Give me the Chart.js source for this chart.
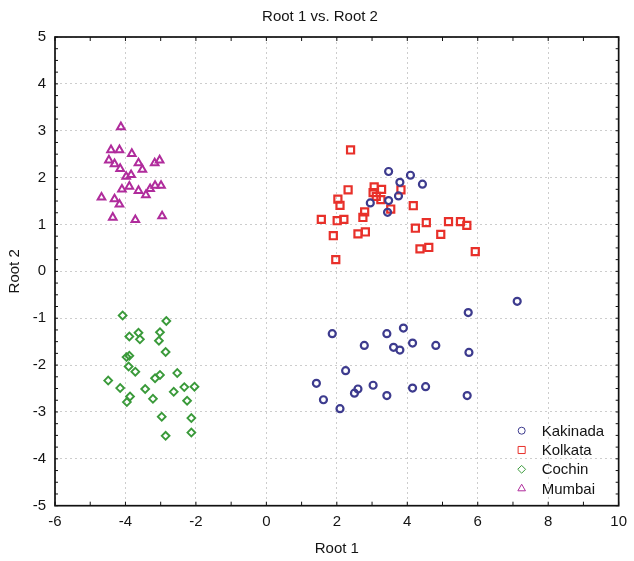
<!DOCTYPE html>
<html>
<head>
<meta charset="utf-8">
<script src="https://cdn.jsdelivr.net/npm/chart.js@4.4.1/dist/chart.umd.min.js"></script>
<style>
  html, body { margin: 0; padding: 0; background: #fff; }
</style>
</head>
<body>
<canvas id="chart" width="634" height="561"></canvas>
<script>
// data (Root 1 = x, Root 2 = y)
const seriesNames = ['Kakinada', 'Kolkata', 'Cochin', 'Mumbai'];

const kakinadaX = [3.47, 4.09, 3.79, 4.43, 3.75, 3.47, 2.95, 3.44,
  7.12, 5.73, 1.87, 3.42, 3.89, 2.78, 3.61, 3.79, 4.15, 4.81, 5.75,
  2.25, 1.42, 1.62, 2.09, 2.50, 2.60, 3.03, 3.42, 4.15, 4.52, 5.70];
const kakinadaY = [2.13, 2.05, 1.90, 1.86, 1.61, 1.51, 1.46, 1.26,
  -0.64, -0.88, -1.33, -1.33, -1.21, -1.58, -1.62, -1.68, -1.53, -1.58, -1.73,
  -2.12, -2.39, -2.74, -2.93, -2.60, -2.51, -2.43, -2.65, -2.49, -2.46, -2.65];

const kolkataX = [2.39, 1.56, 1.90, 1.97, 2.03, 2.09, 2.01, 2.20, 2.32, 2.60,
  2.81, 2.74, 2.79, 3.06, 3.03, 3.12, 3.27, 3.25, 3.53, 3.82,
  4.17, 4.23, 4.54, 4.36, 4.61, 4.95, 5.17, 5.51, 5.69, 5.93];
const kolkataY = [2.59, 1.11, 0.76, 0.25, 1.54, 1.41, 1.08, 1.11, 1.74, 0.80,
  0.84, 1.15, 1.27, 1.80, 1.68, 1.60, 1.75, 1.53, 1.33, 1.74,
  1.40, 0.92, 1.04, 0.48, 0.51, 0.79, 1.06, 1.06, 0.98, 0.42];

const cochinX = [-4.08, -2.84, -3.89, -3.63, -3.59, -3.02, -3.05, -2.86, -3.97, -3.89,
  -3.91, -3.72, -4.49, -3.16, -3.02, -2.53, -4.15, -3.87, -3.96, -3.44,
  -3.22, -2.63, -2.33, -2.04, -2.25, -2.97, -2.13, -2.86, -2.13];
const cochinY = [-0.94, -1.06, -1.39, -1.31, -1.45, -1.30, -1.48, -1.72, -1.83, -1.80,
  -2.03, -2.14, -2.33, -2.28, -2.21, -2.17, -2.49, -2.67, -2.79, -2.51,
  -2.72, -2.57, -2.47, -2.46, -2.76, -3.10, -3.13, -3.51, -3.44];

const mumbaiX = [-4.13, -4.41, -4.17, -3.82, -4.47, -4.31, -4.15, -3.63, -3.52, -3.17,
  -3.03, -3.98, -3.84, -4.10, -3.89, -3.63, -3.42, -3.30, -3.16, -2.99,
  -4.68, -4.31, -4.17, -4.36, -3.72, -2.96];
const mumbaiY = [3.08, 2.59, 2.59, 2.51, 2.37, 2.29, 2.19, 2.31, 2.17, 2.31,
  2.37, 2.02, 2.06, 1.75, 1.81, 1.72, 1.63, 1.76, 1.83, 1.83,
  1.58, 1.54, 1.43, 1.15, 1.10, 1.18];

const xTicks = [-6, -4, -2, 0, 2, 4, 6, 8, 10];
const yTicks = [-5, -4, -3, -2, -1, 0, 1, 2, 3, 4, 5];

const FONT = "'Liberation Sans', Arial, sans-serif";
const TEXT = '#141414';

function toPoints(xs, ys) {
  return xs.map((x, i) => ({ x: x, y: ys[i] }));
}

function series(label, xs, ys, color, style, radius, bw) {
  return {
    label: label,
    data: toPoints(xs, ys),
    pointStyle: style,
    pointRadius: radius,
    pointHoverRadius: radius,
    pointBorderWidth: bw,
    borderColor: color,
    backgroundColor: 'rgba(255,255,255,0)',
    showLine: false
  };
}

// frame + small inward ticks like the original software draws
const frameTicks = {
  id: 'frameTicks',
  afterDraw(chart) {
    const { ctx, chartArea: a, scales } = chart;
    ctx.save();
    ctx.strokeStyle = '#111';
    ctx.lineWidth = 1;
    ctx.beginPath();
    for (let v = -6; v <= 10; v++) {
      const px = scales.x.getPixelForValue(v);
      ctx.moveTo(px, a.bottom); ctx.lineTo(px, a.bottom - 4);
      ctx.moveTo(px, a.top); ctx.lineTo(px, a.top + 4);
    }
    for (let v = -5; v <= 5; v += 0.25) {
      const py = scales.y.getPixelForValue(v);
      ctx.moveTo(a.left, py); ctx.lineTo(a.left + 3, py);
      ctx.moveTo(a.right, py); ctx.lineTo(a.right - 3, py);
    }
    ctx.stroke();
    ctx.lineWidth = 1.7;
    ctx.strokeRect(a.left, a.top, a.right - a.left, a.bottom - a.top);
    ctx.restore();
  }
};

// legend in the lower right corner of the plot
const cornerLegend = {
  id: 'cornerLegend',
  afterDraw(chart) {
    const { ctx, chartArea: a } = chart;
    ctx.save();
    ctx.font = '15px ' + FONT;
    ctx.textBaseline = 'middle';
    chart.data.datasets.forEach((ds, i) => {
      const y = a.bottom - 75 + i * 19.3;
      const x = a.right - 97;
      ctx.strokeStyle = ds.borderColor;
      ctx.fillStyle = 'rgba(255,255,255,0)';
      Chart.helpers.drawPoint(ctx, {
        pointStyle: ds.pointStyle, rotation: 0,
        radius: ds.pointRadius, borderWidth: ds.pointBorderWidth
      }, x, y);
      ctx.fillStyle = TEXT;
      ctx.fillText(ds.label, a.right - 77, y + 1);
    });
    ctx.restore();
  }
};

new Chart(document.getElementById('chart'), {
  type: 'scatter',
  data: {
    datasets: [
      series(seriesNames[0], kakinadaX, kakinadaY, '#3d3b8e', 'circle', 3.5, 2.2),
      series(seriesNames[1], kolkataX, kolkataY, '#e8302a', 'rect', 5, 2.2),
      series(seriesNames[2], cochinX, cochinY, '#3a9a3a', 'rectRot', 3.9, 1.9),
      series(seriesNames[3], mumbaiX, mumbaiY, '#b02c9c', 'triangle', 4.4, 2)
    ]
  },
  plugins: [frameTicks, cornerLegend],
  options: {
    responsive: false,
    animation: false,
    devicePixelRatio: 1,
    layout: { padding: { left: 16, right: 10, top: 0, bottom: 0 } },
    plugins: {
      legend: { display: false },
      tooltip: { enabled: false },
      title: {
        display: true,
        text: 'Root 1 vs. Root 2',
        color: TEXT,
        font: { family: FONT, size: 15, weight: 'normal' },
        padding: { top: 8, bottom: 11 }
      }
    },
    scales: {
      x: {
        type: 'linear',
        min: -6, max: 10,
        afterBuildTicks: (s) => { s.ticks = xTicks.map(v => ({ value: v })); },
        afterFit: (s) => { s.height = 55.3; },
        ticks: { color: TEXT, font: { family: FONT, size: 15 }, padding: 7, maxRotation: 0 },
        grid: { color: '#cdcdcd', lineWidth: 1, drawTicks: false },
        border: { display: false, dash: [2, 3] },
        title: {
          display: true, text: 'Root 1', color: TEXT,
          font: { family: FONT, size: 15 },
          padding: { top: 10, bottom: 3 }
        }
      },
      y: {
        type: 'linear',
        min: -5, max: 5,
        afterBuildTicks: (s) => { s.ticks = yTicks.map(v => ({ value: v })); },
        afterFit: (s) => { s.width = 39; },
        ticks: { color: TEXT, font: { family: FONT, size: 15 }, padding: 9 },
        grid: { color: '#cdcdcd', lineWidth: 1, drawTicks: false },
        border: { display: false, dash: [2, 3] },
        title: {
          display: true, text: 'Root 2', color: TEXT,
          font: { family: FONT, size: 15 },
          padding: { top: -10, bottom: 4 }
        }
      }
    }
  }
});
</script>
</body>
</html>
